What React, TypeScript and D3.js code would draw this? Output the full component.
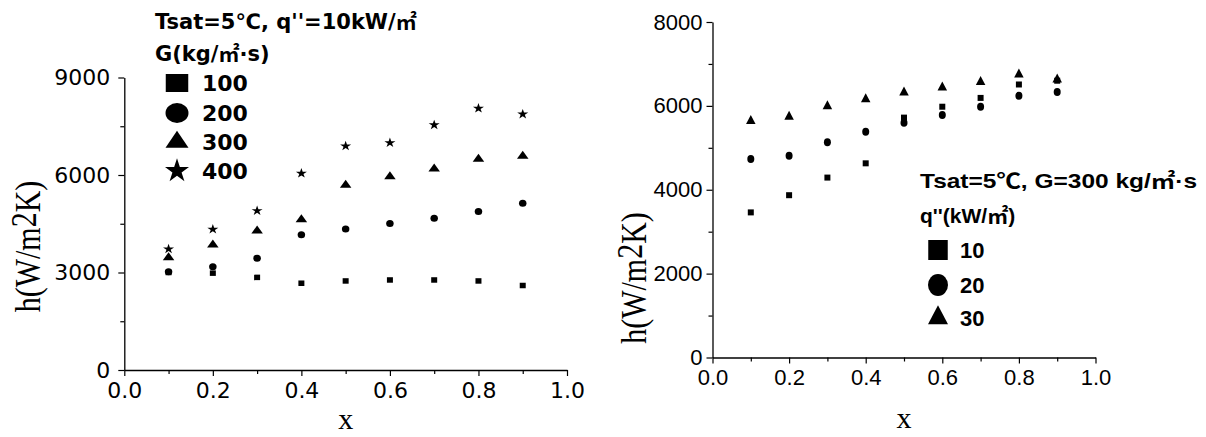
import React, { useRef, useEffect } from "react";
import * as d3 from "d3";

const width = 1206;
const height = 437;

// quality x, shared by both panels
const xValues = [0.1, 0.2, 0.3, 0.4, 0.5, 0.6, 0.7, 0.8, 0.9];
const xMajorTicks = [0, 0.2, 0.4, 0.6, 0.8, 1.0];
const xMinorTicks = [0.1, 0.3, 0.5, 0.7, 0.9];

// left panel: Tsat=5C, q''=10 kW/m2, different mass flux G
const leftLabels = ["100", "200", "300", "400"];
const hG100 = [3000, 2980, 2850, 2670, 2740, 2770, 2770, 2740, 2600];
const hG200 = [3020, 3180, 3440, 4160, 4340, 4510, 4670, 4880, 5130];
const hG300 = [3460, 3850, 4280, 4630, 5690, 5950, 6190, 6490, 6580];
const hG400 = [3720, 4330, 4900, 6050, 6890, 6990, 7540, 8050, 7870];
const leftYMajor = [0, 3000, 6000, 9000];
const leftYMinor = [1500, 4500, 7500];

// right panel: Tsat=5C, G=300, different heat flux q''
const rightLabels = ["10", "20", "30"];
const hQ10 = [3460, 3870, 4290, 4630, 5720, 5980, 6190, 6510, 6600];
const hQ20 = [4735, 4810, 5130, 5385, 5600, 5780, 5980, 6240, 6330];
const hQ30 = [5640, 5740, 5990, 6160, 6320, 6440, 6570, 6750, 6630];
const rightYMajor = [0, 2000, 4000, 6000, 8000];
const rightYMinor = [1000, 3000, 5000, 7000];

// unit-sized symbols, stretched later with scale(w, h)
const symbolPath = (type: string) => {
  if (type === "square") return d3.symbol(d3.symbolSquare, 1)();
  if (type === "circle") return d3.symbol(d3.symbolCircle, Math.PI / 4)();
  if (type === "triangle") return d3.symbol(d3.symbolTriangle, Math.sqrt(3) / 4)();
  return d3.symbol(d3.symbolStar, 1 / 0.8908130915292852)();
};
const symbolScale = (type: string, w: number, h: number) => {
  if (type === "triangle") return `scale(${w},${h / 0.866})`;
  if (type === "star") return `scale(${w / 1.902},${h / 1.809})`;
  return `scale(${w},${h})`;
};

const drawPanel = (svg, cfg) => {
  const x = d3.scaleLinear().domain([0, 1]).range(cfg.xRange);
  const y = d3.scaleLinear().domain(cfg.yDomain).range(cfg.yRange);
  const g = svg.append("g");

  // minor ticks
  g.append("g")
    .attr("transform", `translate(0,${cfg.yRange[0]})`)
    .call(d3.axisBottom(x).tickValues(xMinorTicks).tickSize(4).tickSizeOuter(0).tickFormat(() => ""))
    .call(a => a.select(".domain").remove());
  g.append("g")
    .attr("transform", `translate(${cfg.xRange[0]},0)`)
    .call(d3.axisLeft(y).tickValues(cfg.yMinor).tickSize(4).tickSizeOuter(0).tickFormat(() => ""))
    .call(a => a.select(".domain").remove());

  // major ticks + labels
  g.append("g")
    .attr("transform", `translate(0,${cfg.yRange[0]})`)
    .call(d3.axisBottom(x).tickValues(xMajorTicks).tickSize(6).tickSizeOuter(0).tickPadding(6).tickFormat(d3.format(".1f")))
    .call(a => a.selectAll("text").attr("font-family", cfg.tickFont).attr("font-size", 22).attr("fill", "#000"));
  g.append("g")
    .attr("transform", `translate(${cfg.xRange[0]},0)`)
    .call(d3.axisLeft(y).tickValues(cfg.yMajor).tickSize(6).tickSizeOuter(0).tickPadding(cfg.yPad).tickFormat(d3.format("d")))
    .call(a => a.selectAll("text").attr("font-family", cfg.tickFont).attr("font-size", 22).attr("fill", "#000"));
  g.selectAll(".domain").attr("stroke", "#000").attr("stroke-width", 1.3);
  g.selectAll(".tick line").attr("stroke", "#000").attr("stroke-width", 1.2);

  // data markers
  cfg.series.forEach((s) => {
    g.append("g")
      .selectAll("path")
      .data(s.values)
      .join("path")
      .attr("d", symbolPath(s.type))
      .attr("transform", (d, i) => `translate(${x(xValues[i])},${y(d)}) ${symbolScale(s.type, s.w, s.h)}`)
      .attr("fill", "#000");
  });

  // axis titles
  const yt = g.append("text")
    .attr("transform", `translate(${cfg.yTitle[0]},${cfg.yTitle[1]}) rotate(-90) scale(1,1.2)`)
    .attr("text-anchor", "middle")
    .attr("font-family", "Liberation Serif, Times New Roman, serif")
    .attr("font-size", 30);
  yt.append("tspan").text("h(W/m");
  yt.append("tspan").attr("dy", -3).text("2");
  yt.append("tspan").attr("dy", 3).text("K)");
  g.append("text")
    .attr("x", (cfg.xRange[0] + cfg.xRange[1]) / 2)
    .attr("y", cfg.xTitleY)
    .attr("text-anchor", "middle")
    .attr("font-family", "Liberation Serif, Times New Roman, serif")
    .attr("font-size", 30)
    .text("x");

  // legend
  const lg = g.append("g");
  cfg.legendTitle.forEach((t, i) => {
    const txt = lg.append("text")
      .attr("x", cfg.legendX)
      .attr("y", cfg.legendTitleY[i])
      .attr("font-family", cfg.legendFont)
      .attr("font-weight", cfg.titleWeight)
      .attr("font-size", 21)
      .attr("fill", "#000")
      .text(t);
    if (cfg.titleLength[i]) txt.attr("textLength", cfg.titleLength[i]).attr("lengthAdjust", "spacingAndGlyphs");
  });
  cfg.legendItems.forEach((it, i) => {
    const cy = cfg.legendRowY[i];
    lg.append("path")
      .attr("d", symbolPath(it.type))
      .attr("transform", `translate(${cfg.legendSymX},${cy}) ${symbolScale(it.type, it.w, it.h)}`)
      .attr("fill", "#000");
    lg.append("text")
      .attr("x", cfg.legendLabelX)
      .attr("y", cy + 8)
      .attr("font-family", cfg.labelFont)
      .attr("font-weight", "bold")
      .attr("font-size", 22)
      .attr("fill", "#000")
      .text(it.label);
  });
};

const App = () => {
  const ref = useRef(null);

  useEffect(() => {
    const svg = d3.select(ref.current);
    svg.selectAll("*").remove();

    drawPanel(svg, {
      xRange: [124.3, 567],
      yDomain: [0, 9000],
      yRange: [370, 77.5],
      yMajor: leftYMajor,
      yMinor: leftYMinor,
      yPad: 8,
      tickFont: "DejaVu Sans, sans-serif",
      series: [
        { type: "square", values: hG100, w: 6, h: 5.5 },
        { type: "circle", values: hG200, w: 7.5, h: 7 },
        { type: "triangle", values: hG300, w: 11.5, h: 8 },
        { type: "star", values: hG400, w: 11, h: 9.5 },
      ],
      yTitle: [40, 246.5],
      xTitleY: 429,
      legendX: 155,
      legendTitle: ["Tsat=5℃,  q''=10kW/㎡", "G(kg/㎡·s)"],
      legendTitleY: [29, 60.5],
      titleLength: [0, 0],
      titleWeight: "bold",
      legendFont: "DejaVu Sans, Noto Sans CJK KR, sans-serif",
      labelFont: "DejaVu Sans, sans-serif",
      legendSymX: 177,
      legendLabelX: 202,
      legendRowY: [83, 113, 142, 171],
      legendItems: [
        { type: "square", w: 22.5, h: 18, label: leftLabels[0] },
        { type: "circle", w: 23, h: 20, label: leftLabels[1] },
        { type: "triangle", w: 23, h: 17, label: leftLabels[2] },
        { type: "star", w: 24, h: 23, label: leftLabels[3] },
      ],
    });

    drawPanel(svg, {
      xRange: [712.5, 1095.5],
      yDomain: [0, 8000],
      yRange: [357.5, 22],
      yMajor: rightYMajor,
      yMinor: rightYMinor,
      yPad: 4,
      tickFont: "Liberation Sans, Arial, sans-serif",
      series: [
        { type: "square", values: hQ10, w: 6, h: 6 },
        { type: "circle", values: hQ20, w: 7, h: 8 },
        { type: "triangle", values: hQ30, w: 9.5, h: 9 },
      ],
      yTitle: [646, 278],
      xTitleY: 428,
      legendX: 920,
      legendTitle: ["Tsat=5℃,  G=300 kg/㎡·s", "q''(kW/㎡)"],
      legendTitleY: [188, 223],
      titleLength: [277, 0],
      titleWeight: "600",
      legendFont: "Liberation Sans, Noto Sans CJK KR, sans-serif",
      labelFont: "Liberation Sans, Arial, sans-serif",
      legendSymX: 938,
      legendLabelX: 960,
      legendRowY: [250, 285, 318],
      legendItems: [
        { type: "square", w: 19.5, h: 20, label: rightLabels[0] },
        { type: "circle", w: 20, h: 22, label: rightLabels[1] },
        { type: "triangle", w: 20, h: 19, label: rightLabels[2] },
      ],
    });
  }, []);

  return (
    <div style={{ position: "absolute", left: 0, top: 0 }}>
      <svg ref={ref} width={width} height={height} style={{ display: "block", background: "#fff" }} />
    </div>
  );
};

export default App;
